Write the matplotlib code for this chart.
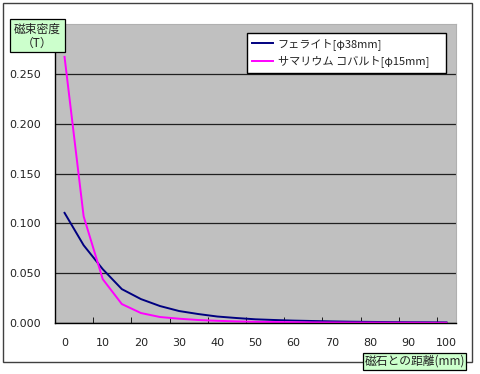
import numpy as np
import matplotlib
matplotlib.use("Agg")
import matplotlib.pyplot as plt
from matplotlib.patches import Rectangle

plt.rcParams['font.family'] = ['Noto Sans CJK JP', 'DejaVu Sans']

# distance from magnet (mm), one category every 5 mm
distance = [0, 5, 10, 15, 20, 25, 30, 35, 40, 45, 50,
            55, 60, 65, 70, 75, 80, 85, 90, 95, 100]
ferrite = [0.1105, 0.078, 0.054, 0.034, 0.024, 0.017, 0.012, 0.009, 0.0065, 0.005, 0.0037,
           0.003, 0.0024, 0.002, 0.0016, 0.0013, 0.0011, 0.0009, 0.0008, 0.0007, 0.0006]
samarium = [0.267, 0.107, 0.044, 0.019, 0.010, 0.006, 0.0043, 0.003, 0.0022, 0.0016, 0.0012,
            0.001, 0.0008, 0.0006, 0.0005, 0.0004, 0.0004, 0.0003, 0.0003, 0.0002, 0.0002]
labels = ['フェライト[φ38mm]', 'サマリウム コバルト[φ15mm]']
y_ticks = [0.0, 0.05, 0.10, 0.15, 0.20, 0.25]
x_ticks = [0, 10, 20, 30, 40, 50, 60, 70, 80, 90, 100]

W, H = 480, 374
fig = plt.figure(figsize=(W / 100, H / 100), dpi=100)


def px_rect(x0, y0, x1, y1, **kw):
    # rectangle given in pixel coords (origin top-left)
    r = Rectangle((x0 / W, 1 - y1 / H), (x1 - x0) / W, (y1 - y0) / H,
                  transform=fig.transFigure, **kw)
    fig.patches.append(r)
    return r


# outer chart border
px_rect(3, 3, 472, 362, fill=False, edgecolor='#404040', linewidth=1.0)

ax = fig.add_axes([55 / W, 1 - 323 / H, 401 / W, 299 / H])
ax.set_facecolor('#C0C0C0')

ax.plot(distance, ferrite, color='#000080', linewidth=1.4, label=labels[0])
ax.plot(distance, samarium, color='#FF00FF', linewidth=1.4, label=labels[1])

ax.set_xlim(-2.5, 102.5)
ax.set_ylim(0, 0.3)
ax.set_yticks(y_ticks)
ax.set_yticklabels(['%.3f' % v for v in y_ticks], fontsize=8, family='DejaVu Sans')
ax.set_xticks(x_ticks)
ax.set_xticklabels([str(v) for v in x_ticks], fontsize=8, family='DejaVu Sans')
ax.set_xticks(np.arange(7.5, 100, 10), minor=True)
ax.tick_params(axis='x', which='major', length=0, pad=11, colors='#222222')
ax.tick_params(axis='x', which='minor', length=4, direction='in', color='black')
ax.tick_params(axis='y', length=0, pad=10, colors='#222222')
ax.grid(axis='y', color='#202020', linewidth=0.9)
ax.set_axisbelow(True)

for s in ['top', 'right']:
    ax.spines[s].set_color('#B0B0B0')
for s in ['left', 'bottom']:
    ax.spines[s].set_color('black')
    ax.spines[s].set_linewidth(1.0)

leg = ax.legend(loc='upper left', bbox_to_anchor=(247 / W, 1 - 33 / H, 199 / W, 0),
                bbox_transform=fig.transFigure, mode='expand', borderaxespad=0,
                fontsize=8, frameon=True, fancybox=False, handlelength=1.9,
                handletextpad=0.4, labelspacing=0.55, borderpad=0.45)
leg.get_frame().set_edgecolor('black')
leg.get_frame().set_linewidth(1.0)
leg.get_frame().set_alpha(1)
for t in leg.get_texts():
    t.set_color('#222222')

# axis titles in green boxes
px_rect(10, 19, 65, 52, facecolor='#CCFFCC', edgecolor='black', linewidth=0.9, zorder=5)
fig.text(37.5 / W, 1 - 29 / H, '磁束密度', ha='center', va='center', fontsize=8.5,
         color='#222222', zorder=6)
fig.text(37.5 / W, 1 - 43 / H, '（T）', ha='center', va='center', fontsize=8.5,
         color='#222222', zorder=6)
px_rect(363, 353, 466, 370, facecolor='#CCFFCC', edgecolor='black', linewidth=0.9, zorder=5)
fig.text(414.5 / W, 1 - 361.5 / H, '磁石との距離(mm)', ha='center', va='center', fontsize=8.5,
         color='#222222', zorder=6)

fig.savefig('out.png', dpi=100)
